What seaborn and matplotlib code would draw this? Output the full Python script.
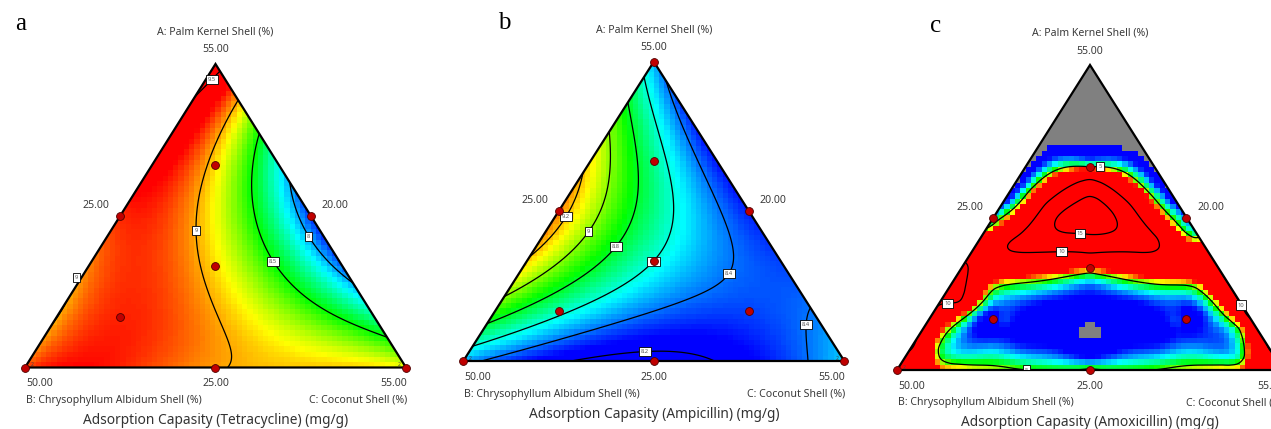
import numpy as np
import pandas as pd
import matplotlib
matplotlib.use("Agg")
import matplotlib.pyplot as plt
from matplotlib.colors import LinearSegmentedColormap
from matplotlib.patches import Polygon
import seaborn as sns
from math import factorial

sns.set_theme(style="white")
plt.rcParams["font.family"] = ["Noto Sans", "DejaVu Sans"]

# ---------------- mixture design (fractions of A, B, C) ----------------
design_A = [1.0, 0.5, 0.5, 1/3, 2/3, 1/6, 1/6, 0.0, 0.0, 0.0]
design_B = [0.0, 0.5, 0.0, 1/3, 1/6, 2/3, 1/6, 1.0, 0.0, 0.5]
design_C = [0.0, 0.0, 0.5, 1/3, 1/6, 1/6, 2/3, 0.0, 1.0, 0.5]

tc_shown = [False, True, True, True, True, True, False, True, True, True]
amp_shown = [True, True, True, True, True, True, True, True, True, True]
amx_shown = [False, True, True, True, True, True, True, True, True, True]

# ---------------- response samples: Tetracycline ----------------
tc_A = [1.000, 0.500, 0.500, 0.333, 0.667, 0.167, 0.167, 0.000, 0.000, 0.000,
        0.904, 0.968, 0.881, 0.684, 0.446, 0.222, 0.025, 0.000, 0.300, 0.250,
        0.773, 0.660, 0.443, 0.361, 0.222, 0.107,
        0.611, 0.552, 0.437, 0.272, 0.450, 0.000, 0.000]
tc_B = [0.000, 0.500, 0.000, 0.333, 0.167, 0.667, 0.167, 1.000, 0.000, 0.500,
        0.096, 0.000, 0.000, 0.186, 0.349, 0.443, 0.434, 0.457, 0.700, 0.720,
        0.000, 0.072, 0.154, 0.153, 0.123, 0.000,
        0.000, 0.021, 0.028, 0.000, 0.000, 0.250, 0.750]
tc_C = [0.000, 0.000, 0.500, 0.334, 0.166, 0.166, 0.666, 0.000, 1.000, 0.500,
        0.000, 0.032, 0.119, 0.130, 0.205, 0.335, 0.541, 0.543, 0.000, 0.030,
        0.227, 0.268, 0.403, 0.486, 0.655, 0.893,
        0.389, 0.427, 0.535, 0.728, 0.550, 0.750, 0.250]
tc_resp = [9.60, 9.25, 7.85, 8.90, 8.95, 9.30, 8.55, 9.15, 8.85, 9.05,
           9.50, 9.50, 9.00, 9.00, 9.00, 9.00, 9.00, 9.00, 8.93, 9.12,
           8.50, 8.50, 8.50, 8.50, 8.50, 8.50,
           8.00, 8.00, 8.00, 8.00, 7.75, 8.95, 9.15]
tc_levels = [8.0, 8.5, 9.0, 9.5]
tc_label_at = [(0.953, 0.036, 0.011), (0.450, 0.346, 0.204), (0.292, 0.705, 0.003),
               (0.362, 0.152, 0.486), (0.437, 0.031, 0.532)]

# ---------------- response samples: Ampicillin ----------------
amp_A = [1.000, 0.500, 0.500, 0.333, 0.667, 0.167, 0.167, 0.000, 0.000, 0.000,
         0.349, 0.633, 0.485, 0.770, 0.582, 0.438, 0.326, 0.215,
         0.861, 0.683, 0.482, 0.384, 0.226, 0.120,
         0.933, 0.761, 0.516, 0.170, 0.048,
         0.783, 0.427, 0.285, 0.226, 0.193, 0.047, 0.000,
         0.000, 0.034, 0.000, 0.193, 0.000, 0.123]
amp_B = [0.000, 0.500, 0.000, 0.333, 0.167, 0.667, 0.167, 1.000, 0.000, 0.500,
         0.651, 0.367, 0.489, 0.230, 0.324, 0.457, 0.618, 0.785,
         0.139, 0.195, 0.321, 0.408, 0.624, 0.880,
         0.067, 0.095, 0.186, 0.626, 0.952,
         0.040, 0.087, 0.153, 0.222, 0.282, 0.775, 0.956,
         0.738, 0.506, 0.344, 0.000, 0.108, 0.064]
amp_C = [0.000, 0.000, 0.500, 0.334, 0.166, 0.166, 0.666, 0.000, 1.000, 0.500,
         0.000, 0.000, 0.026, 0.000, 0.094, 0.105, 0.056, 0.000,
         0.000, 0.122, 0.197, 0.208, 0.150, 0.000,
         0.000, 0.144, 0.298, 0.204, 0.000,
         0.177, 0.486, 0.562, 0.552, 0.525, 0.178, 0.044,
         0.262, 0.460, 0.656, 0.807, 0.892, 0.813]
amp_resp = [8.50, 9.30, 8.30, 8.60, 8.66, 8.63, 8.28, 8.45, 8.50, 8.15,
            9.2, 9.2, 9.2, 9.0, 9.0, 9.0, 9.0, 9.0,
            8.8, 8.8, 8.8, 8.8, 8.8, 8.8,
            8.6, 8.6, 8.6, 8.6, 8.6,
            8.4, 8.4, 8.4, 8.4, 8.4, 8.4, 8.4,
            8.2, 8.2, 8.2, 8.4, 8.4, 8.4]
amp_levels = [8.2, 8.4, 8.6, 8.8, 9.0, 9.2]
amp_label_at = [(0.485, 0.489, 0.026), (0.435, 0.456, 0.109), (0.384, 0.408, 0.208),
                (0.332, 0.333, 0.335), (0.285, 0.153, 0.562), (0.123, 0.064, 0.813),
                (0.034, 0.506, 0.460)]

# ---------------- response samples: Amoxicillin ----------------
amx_A = [1.000, 0.500, 0.500, 0.333, 0.667, 0.167, 0.167, 0.000, 0.000, 0.000,
         0.508, 0.492, 0.492, 0.564, 0.449,
         0.416, 0.623, 0.426, 0.384, 0.387, 0.387, 0.541, 0.541,
         0.466, 0.436, 0.590, 0.567,
         0.738, 0.613, 0.623, 0.728, 0.721, 0.850, 0.690, 0.550, 0.550,
         0.318, 0.262, 0.120, 0.056, 0.272, 0.141, 0.049, 0.012, 0.012,
         0.131, 0.131, 0.131, 0.230, 0.040, 0.141, 0.141, 0.262,
         0.164, 0.164, 0.230, 0.230, 0.082, 0.082, 0.082, 0.082,
         0.230, 0.351, 0.098, 0.230, 0.302, 0.180, 0.066, 0.416, 0.420,
         0.360, 0.354, 0.354, 0.049, 0.049, 0.000, 0.000]
amx_B = [0.000, 0.500, 0.000, 0.333, 0.167, 0.667, 0.167, 1.000, 0.000, 0.500,
         0.259, 0.340, 0.187, 0.226, 0.302,
         0.499, 0.189, 0.113, 0.308, 0.410, 0.203, 0.346, 0.126,
         0.534, 0.000, 0.360, 0.053,
         0.131, 0.387, 0.000, 0.240, 0.036, 0.075, 0.155, 0.450, 0.000,
         0.341, 0.620, 0.811, 0.863, 0.097, 0.049, 0.077, 0.727, 0.261,
         0.422, 0.616, 0.253, 0.385, 0.480, 0.732, 0.127, 0.369,
         0.651, 0.185, 0.515, 0.256, 0.563, 0.355, 0.718, 0.200,
         0.770, 0.649, 0.902, 0.722, 0.000, 0.000, 0.000, 0.584, 0.000,
         0.320, 0.556, 0.090, 0.903, 0.048, 0.850, 0.150]
amx_C = [0.000, 0.000, 0.500, 0.334, 0.166, 0.166, 0.666, 0.000, 1.000, 0.500,
         0.233, 0.168, 0.321, 0.210, 0.249,
         0.085, 0.188, 0.461, 0.308, 0.203, 0.410, 0.113, 0.333,
         0.000, 0.564, 0.050, 0.380,
         0.131, 0.000, 0.377, 0.032, 0.243, 0.075, 0.155, 0.000, 0.450,
         0.341, 0.118, 0.069, 0.081, 0.631, 0.810, 0.874, 0.261, 0.727,
         0.447, 0.253, 0.616, 0.385, 0.480, 0.127, 0.732, 0.369,
         0.185, 0.651, 0.255, 0.514, 0.355, 0.563, 0.200, 0.718,
         0.000, 0.000, 0.000, 0.048, 0.698, 0.820, 0.934, 0.000, 0.580,
         0.320, 0.090, 0.556, 0.048, 0.903, 0.150, 0.850]
amx_resp = [3.6, 4.6, 4.3, 5.8, 5.0, 4.0, 4.0, 6.0, 6.0, 5.15,
            16.0, 15.0, 15.0, 15.0, 15.0,
            10.0, 10.0, 10.0, 10.0, 10.0, 10.0, 10.0, 10.0,
            5.0, 5.0, 5.0, 5.0,
            3.9, 3.9, 3.9, 3.9, 3.9, 3.7, 4.25, 4.1, 4.05,
            5.0, 5.0, 5.0, 5.0, 5.0, 5.0, 5.0, 5.0, 5.0,
            3.893, 4.0, 4.0, 4.1, 4.15, 4.2, 4.2, 4.2,
            4.15, 4.15, 4.2, 4.2, 4.1, 4.1, 4.3, 4.3,
            11.0, 10.0, 10.0, 10.0, 10.0, 10.5, 10.0, 7.2, 6.0,
            7.5, 8.0, 8.0, 7.0, 7.0, 5.5, 5.5]
amx_levels = [5, 10, 15]
amx_label_at = [(0.678, 0.135, 0.187), (0.461, 0.295, 0.244), (0.393, 0.378, 0.229),
                (0.224, 0.758, 0.018), (0.211, 0.006, 0.783), (0.019, 0.643, 0.338)]

# ---------------- styling ----------------
de_colors = ["#0000ff", "#00ffff", "#00ff00", "#ffff00", "#ff0000"]
W, H = 1271, 429
label_color = "#3a3a3a"


def de_colormap(vmin, vmax, blue_until):
    """Blue-cyan-green-yellow-red ramp; flat blue from vmin up to blue_until."""
    f = (blue_until - vmin) / (vmax - vmin)
    stops = [0.0] + [f + q * (1.0 - f) for q in (0.0, 0.25, 0.5, 0.75, 1.0)]
    colors = [de_colors[0]] + de_colors
    return LinearSegmentedColormap.from_list("de", list(zip(stops, colors)))


def to_xy(A, B, C):
    A, B, C = (np.asarray(v, dtype=float) for v in (A, B, C))
    s = A + B + C
    return C / s + 0.5 * A / s, A / s


def bernstein(A, B, C, deg):
    cols = []
    for i in range(deg + 1):
        for j in range(deg + 1 - i):
            k = deg - i - j
            w = factorial(deg) / (factorial(i) * factorial(j) * factorial(k))
            cols.append(w * A ** i * B ** j * C ** k)
    return np.column_stack(cols)


def fit_mixture(A, B, C, resp, deg, lam):
    """Mixture polynomial (Bernstein / Scheffe form) fitted by least squares."""
    A, B, C, resp = (np.asarray(v, dtype=float) for v in (A, B, C, resp))
    s = A + B + C
    X = bernstein(A / s, B / s, C / s, deg)
    mean = resp.mean()
    n = X.shape[1]
    Xa = np.vstack([X, np.sqrt(lam) * np.eye(n)])
    ya = np.concatenate([resp - mean, np.zeros(n)])
    coef = np.linalg.lstsq(Xa, ya, rcond=None)[0]

    def predict(a, b, c):
        shp = np.shape(a)
        z = bernstein(np.ravel(a), np.ravel(b), np.ravel(c), deg) @ coef + mean
        return z.reshape(shp)
    return predict


def catmull_rom(t):
    t2 = t * t
    t3 = t2 * t
    return (-0.5 * t3 + t2 - 0.5 * t,
            1.5 * t3 - 2.5 * t2 + 1.0,
            -1.5 * t3 + 2.0 * t2 + 0.5 * t,
            0.5 * t3 - 0.5 * t2)


def bicubic(G, x, y):
    n = G.shape[0]
    Gp = np.pad(G, 1, mode="reflect", reflect_type="odd")
    gx = np.clip(np.asarray(x, dtype=float) * (n - 1), 0, n - 1 - 1e-9)
    gy = np.clip(np.asarray(y, dtype=float) * (n - 1), 0, n - 1 - 1e-9)
    i = np.floor(gx).astype(int)
    j = np.floor(gy).astype(int)
    wx = catmull_rom(gx - i)
    wy = catmull_rom(gy - j)
    out = np.zeros_like(gx)
    for q in range(4):
        for p in range(4):
            out += wy[q] * wx[p] * Gp[j + q, i + p]
    return out


def fit_thin_plate(A, B, C, resp, n, lam, shift):
    """Smoothing thin-plate surface of log(response - shift) on a regular grid."""
    x, y = to_xy(A, B, C)
    u = np.log(np.asarray(resp, dtype=float) - shift)
    h = 1.0 / (n - 1)
    gx, gy = x / h, y / h
    i0 = np.clip(np.floor(gx).astype(int), 0, n - 2)
    j0 = np.clip(np.floor(gy).astype(int), 0, n - 2)
    fx, fy = gx - i0, gy - j0
    m = len(x)
    Wm = np.zeros((m, n * n))
    rows = np.arange(m)
    for di, dj, w in ((0, 0, (1 - fx) * (1 - fy)), (1, 0, fx * (1 - fy)),
                      (0, 1, (1 - fx) * fy), (1, 1, fx * fy)):
        np.add.at(Wm, (rows, (j0 + dj) * n + (i0 + di)), w)
    eye = np.eye(n)
    D2 = np.diff(eye, 2, axis=0)
    D1 = np.diff(eye, 1, axis=0)
    S2 = D2.T @ D2
    S1 = D1.T @ D1
    M = np.kron(eye, S2)
    M += np.kron(S2, eye)
    M += 2.0 * np.kron(S1, S1)
    M *= lam
    M += Wm.T @ Wm
    z = np.linalg.solve(M, Wm.T @ u)
    G = z.reshape(n, n)

    def predict(a, b, c):
        a = np.asarray(a, dtype=float)
        c = np.asarray(c, dtype=float)
        return shift + np.exp(bicubic(G, c + 0.5 * a, a))
    return predict


def draw_panel(ax, predict, levels, vmin, vmax, blue_until, under, label_at, shown):
    ax.set_xlim(0, 1)
    ax.set_ylim(0, 1)
    ax.axis("off")
    tri = Polygon([[0, 0], [1, 0], [0.5, 1]], closed=True, transform=ax.transData)

    cmap = de_colormap(vmin, vmax, blue_until)
    cmap.set_under(under)
    cmap.set_over("#ff0000")

    # blocky response fill
    nx, ny = 72, 57
    xe = np.linspace(0, 1, nx + 1)
    ye = np.linspace(0, 1, ny + 1)
    XC, YC = np.meshgrid(0.5 * (xe[:-1] + xe[1:]), 0.5 * (ye[:-1] + ye[1:]))
    a = YC
    c = XC - YC / 2
    Z = predict(a, 1 - a - c, c)
    mesh = ax.pcolormesh(xe, ye, Z, cmap=cmap, vmin=vmin, vmax=vmax,
                         shading="flat", zorder=1)
    mesh.set_clip_path(tri)

    # smooth contour lines
    g = np.linspace(0, 1, 401)
    XF, YF = np.meshgrid(g, g)
    af = YF
    cf = XF - YF / 2
    ZF = predict(af, 1 - af - cf, cf)
    cs = ax.contour(XF, YF, ZF, levels=levels, colors="black",
                    linewidths=0.9, zorder=2)
    cs.set_clip_path(tri)
    pos = [tuple(float(v) for v in to_xy(*p)) for p in label_at]
    texts = ax.clabel(cs, manual=pos, inline=False, fontsize=4.2,
                      fmt="%g", colors="#555555")
    for t in texts:
        t.set_rotation(0)
        t.set_zorder(4)
        t.set_bbox(dict(boxstyle="square,pad=0.35", fc="white",
                        ec="black", lw=0.6))

    ax.add_patch(Polygon([[0, 0], [1, 0], [0.5, 1]], closed=True, fill=False,
                         ec="black", lw=1.6, zorder=3, clip_on=False,
                         joinstyle="miter"))

    A = np.array(design_A)[shown]
    B = np.array(design_B)[shown]
    C = np.array(design_C)[shown]
    x, y = to_xy(A, B, C)
    pts = pd.DataFrame({"x": x, "y": y})
    sns.scatterplot(data=pts, x="x", y="y", ax=ax, s=32, color="#c00000",
                    edgecolor="#4d0000", linewidth=0.6, zorder=6,
                    clip_on=False, legend=False)
    ax.set_xlim(0, 1)
    ax.set_ylim(0, 1)
    ax.set_xlabel("")
    ax.set_ylabel("")


fig = plt.figure(figsize=(W / 100, H / 100), dpi=100)
fig.patch.set_facecolor("white")


def ftext(xp, yp, s, **kw):
    fig.text(xp / W, 1 - yp / H, s, **kw)


panels = [
    dict(letter="a", frame=(25.0, 64.0, 406.0, 367.5), letter_xy=(15, 24),
         title="Adsorption Capasity (Tetracycline) (mg/g)",
         surface=fit_mixture(tc_A, tc_B, tc_C, tc_resp, 4, 1e-4),
         levels=tc_levels, vrange=(7.75, 9.25, 7.75), under="#0000ff",
         labels=tc_label_at, shown=tc_shown, twos=(True, True)),
    dict(letter="b", frame=(463.3, 61.7, 844.3, 361.0), letter_xy=(498, 23),
         title="Adsorption Capasity (Ampicillin) (mg/g)",
         surface=fit_mixture(amp_A, amp_B, amp_C, amp_resp, 4, 1e-4),
         levels=amp_levels, vrange=(8.27, 9.42, 8.27), under="#0000ff",
         labels=amp_label_at, shown=amp_shown, twos=(True, True)),
    dict(letter="c", frame=(897.0, 65.0, 1283.0, 370.0), letter_xy=(930, 26),
         title="Adsorption Capasity (Amoxicillin) (mg/g)",
         surface=fit_thin_plate(amx_A, amx_B, amx_C, amx_resp, 45, 2e-3, 3.5),
         levels=amx_levels, vrange=(3.9, 5.6, 4.12), under="#808080",
         labels=amx_label_at, shown=amx_shown, twos=(True, False)),
]

for p in panels:
    lx, ty, rx, by = p["frame"]
    ax = fig.add_axes([lx / W, 1 - by / H, (rx - lx) / W, (by - ty) / H])
    vmin, vmax, blue_until = p["vrange"]
    draw_panel(ax, p["surface"], p["levels"], vmin, vmax, blue_until,
               p["under"], p["labels"], np.array(p["shown"]))

    cx = 0.5 * (lx + rx)
    my = 0.5 * (ty + by)
    small = dict(fontsize=7.6, color=label_color, va="center")
    ftext(cx, ty - 32, "A: Palm Kernel Shell (%)", ha="center", **small)
    ftext(cx, ty - 14, "55.00", ha="center", **small)
    ftext(0.5 * (lx + cx) - 24, my - 10.5, "25.00", ha="center", **small)
    ftext(0.5 * (rx + cx) + 24, my - 10.5, "20.00", ha="center", **small)
    ftext(lx + 1, by + 16.5, "50.00", ha="left", **small)
    ftext(cx, by + 16.5, "25.00", ha="center", **small)
    ftext(rx + 1, by + 16.5, "55.00", ha="right", **small)
    ftext(lx + 1, by + 33, "B: Chrysophyllum Albidum Shell (%)", ha="left", **small)
    ftext(rx + 1, by + 33, "C: Coconut Shell (%)", ha="right", **small)
    ftext(cx, by + 53, p["title"], ha="center", va="center", fontsize=9.9,
          color="#333333")
    ftext(p["letter_xy"][0], p["letter_xy"][1], p["letter"], ha="left",
          va="center", fontsize=18, color="black", family="Liberation Serif")
    if p["twos"][0]:
        ftext(lx + 7, by - 2.5, "2", ha="center", va="center", fontsize=3.6,
              color="#444444")
    if p["twos"][1]:
        ftext(rx - 7, by - 2.5, "2", ha="center", va="center", fontsize=3.6,
              color="#444444")

fig.savefig("out.png", dpi=100, facecolor="white")
